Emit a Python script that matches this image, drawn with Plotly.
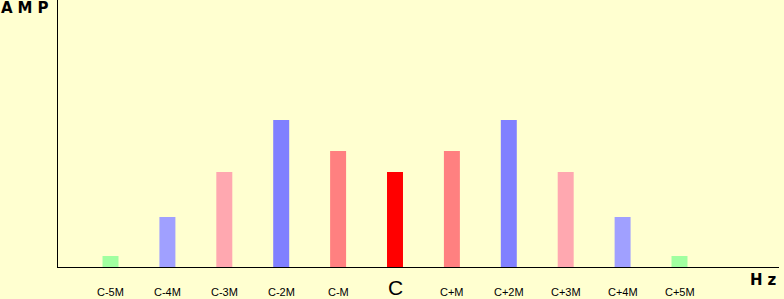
import plotly.graph_objects as go

labels = ["C-5M", "C-4M", "C-3M", "C-2M", "C-M", "C", "C+M", "C+2M", "C+3M", "C+4M", "C+5M"]
positions = [-5, -4, -3, -2, -1, 0, 1, 2, 3, 4, 5]
amplitudes = [11, 50, 95, 147, 116, 95, 116, 147, 95, 50, 11]
colors = ["#A0FFA0", "#A0A0FF", "#FFA8B0", "#8080FF", "#FF8080", "#FF0000",
          "#FF8080", "#8080FF", "#FFA8B0", "#A0A0FF", "#A0FFA0"]

BG = "#FFFFD0"
PLOT_H = 267.0

fig = go.Figure()
fig.add_trace(go.Bar(x=positions, y=amplitudes, marker=dict(color=colors, line=dict(width=0)),
                     width=0.281, hoverinfo="skip"))

for p, lab in zip(positions, labels):
    if lab == "C":
        fig.add_annotation(x=p, y=-20 / PLOT_H, xref="x", yref="paper", text=lab, showarrow=False,
                           font=dict(family="Liberation Sans, Arial", size=21, color="#000000"),
                           yanchor="middle", xanchor="center")
    else:
        fig.add_annotation(x=p, y=-25 / PLOT_H, xref="x", yref="paper", text=lab, showarrow=False,
                           font=dict(family="Liberation Sans, Arial", size=11, color="#000000"),
                           yanchor="middle", xanchor="center")

fig.add_annotation(x=0, y=1, xref="paper", yref="paper", text="<b>A\u2004M\u2004P</b>",
                   showarrow=False, xanchor="left", yanchor="top", xshift=-59, yshift=3,
                   font=dict(family="DejaVu Sans", size=15, color="#000000"))
fig.add_annotation(x=1, y=-13 / PLOT_H, xref="paper", yref="paper", text="<b>H\u2004z</b>",
                   showarrow=False, xanchor="right", yanchor="middle", xshift=-1,
                   font=dict(family="DejaVu Sans", size=15, color="#000000"))

fig.update_layout(
    width=784, height=299,
    margin=dict(l=58, r=5, t=0, b=32),
    paper_bgcolor=BG, plot_bgcolor=BG,
    showlegend=False,
    xaxis=dict(range=[-5.9227, 6.7487], showgrid=False, zeroline=False, showticklabels=False,
               ticks="", showline=True, linecolor="#000000", linewidth=1, fixedrange=True),
    yaxis=dict(range=[0, 267], showgrid=False, zeroline=False, showticklabels=False,
               ticks="", showline=True, linecolor="#000000", linewidth=1, fixedrange=True),
)

fig.write_html("out.html", config={"displayModeBar": False})
